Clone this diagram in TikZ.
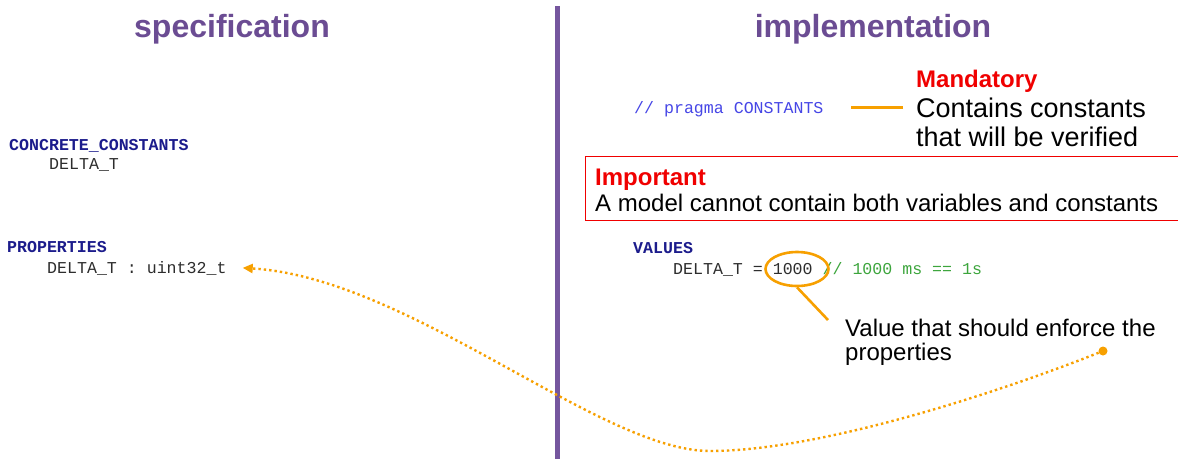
\documentclass[tikz,border=0pt]{standalone}
\usepackage{fontspec}
\setmainfont{Liberation Sans}
\setmonofont{Liberation Mono}
\usetikzlibrary{arrows.meta,shapes.geometric}

\definecolor{titlepurple}{RGB}{107,76,147}
\definecolor{barpurple}{RGB}{117,86,158}
\definecolor{kwnavy}{RGB}{28,28,140}
\definecolor{codegray}{RGB}{45,45,45}
\definecolor{pragmablue}{RGB}{70,70,230}
\definecolor{commgreen}{RGB}{60,165,60}
\definecolor{orng}{RGB}{247,160,0}
\definecolor{alertred}{RGB}{240,0,0}

\tikzset{
	title/.style={anchor=base, inner sep=0pt, text=titlepurple,
		font=\bfseries\fontsize{32}{38}\selectfont},
	code/.style={anchor=base west, inner sep=0pt, text=codegray,
		font=\ttfamily\fontsize{16.6}{20}\selectfont},
	keyword/.style={code, text=kwnavy, font=\ttfamily\bfseries\fontsize{16.6}{20}\selectfont},
	head/.style={anchor=base west, inner sep=0pt, text=alertred,
		font=\bfseries\fontsize{24}{28}\selectfont},
	note/.style={anchor=base west, inner sep=0pt, text=black},
	callout/.style={draw=orng, line width=3pt},
	flow/.style={orng, line width=2.4pt, dash pattern=on 2.4pt off 3pt,
		-{Triangle[length=10pt,width=9pt]}}
}

\begin{document}
\begin{tikzpicture}[x=1pt, y=-1pt]
	\useasboundingbox[fill=white] (0,0) rectangle (1178,459);

	% titles
	\node[title] (spec) at (232,37) {specification};
	\node[title] (impl) at (873,37) {implementation};
	\draw[barpurple, line width=5pt] (557,6) -- (557,459);

	% specification side
	\node[keyword] (cc) at (9,150) {CONCRETE\_CONSTANTS};
	\node[code] (ccd) at (49,169) {DELTA\_T};
	\node[keyword] (props) at (7,252) {PROPERTIES};
	\node[code] (propline) at (47,273) {DELTA\_T : uint32\_t};

	% implementation side
	\node[code, text=pragmablue] (pragma) at (634,113) {// pragma CONSTANTS};
	\node[keyword] (vals) at (633,253) {VALUES};
	\node[code] (valline) at (673,274)
		{DELTA\_T = 1000 \textcolor{commgreen}{// 1000 ms == 1s}};

	% mandatory note
	\node[head] (mand) at (916,87) {Mandatory};
	\node[note, font=\fontsize{27}{30}\selectfont] (contains) at (916,117) {Contains constants};
	\node[note, font=\fontsize{27}{30}\selectfont] (verified) at (916,146) {that will be verified};
	\draw[callout] ([xshift=-13pt]contains.west) -- ++(-52,0);

	% important box
	\draw[alertred, line width=1pt] (585,156) rectangle (1182,220);
	\node[head] (imp) at (595,185) {Important};
	\node[note, font=\fontsize{24}{28}\selectfont] (model) at (595,211)
		{A model cannot contain both variables and constants};

	% value note
	\node[draw=orng, line width=2.6pt, ellipse, minimum width=63pt, minimum height=34pt]
		(ring) at (797,269) {};
	\node[note, font=\fontsize{24}{28}\selectfont] (value) at (845,336) {Value that should enforce the};
	\node[note, font=\fontsize{24}{28}\selectfont] (valuetwo) at (845,360) {properties};
	\coordinate (valtip) at (828,320);
	\draw[callout, line width=2.6pt] (ring.south) -- (valtip);

	% link back to the property
	\node[circle, fill=orng, inner sep=0pt, minimum size=9pt] (dot) at (1103,351) {};
	\coordinate (proptip) at ([xshift=16pt]propline.east);
	\draw[flow] (dot) .. controls (1000,392) and (820,451) .. (710,451)
		.. controls (600,451) and (410,278) .. (proptip);
\end{tikzpicture}
\end{document}
